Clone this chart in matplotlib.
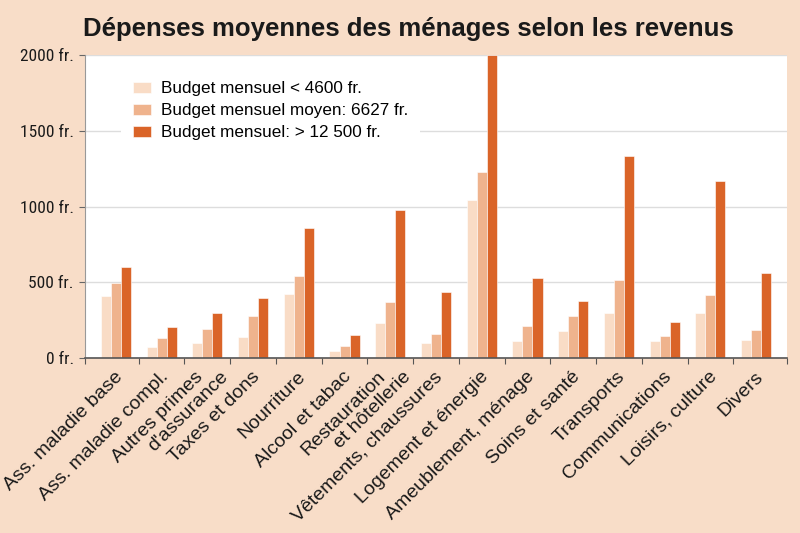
import numpy as np
import matplotlib.pyplot as plt
from matplotlib import font_manager

categories = ["Ass. maladie base", "Ass. maladie compl.", "Autres primes\nd'assurance",
              "Taxes et dons", "Nourriture", "Alcool et tabac", "Restauration\net hôtellerie",
              "Vêtements, chaussures", "Logement et énergie", "Ameublement, ménage",
              "Soins et santé", "Transports", "Communications", "Loisirs, culture", "Divers"]
low = [411, 75, 101, 140, 424, 48, 229, 101, 1045, 114, 180, 301, 114, 301, 121]
mid = [497, 132, 193, 279, 543, 81, 372, 158, 1228, 213, 279, 517, 147, 418, 183]
high = [600, 205, 297, 400, 856, 154, 977, 436, 2000, 532, 376, 1333, 240, 1170, 561]
series_labels = ["Budget mensuel < 4600 fr.", "Budget mensuel moyen: 6627 fr.",
                 "Budget mensuel: > 12 500 fr."]
yticks = [0, 500, 1000, 1500, 2000]

bg = "#F8DDC8"
colors = ["#F9DCC6", "#EFB38D", "#DA6428"]

# condensed font for the y axis if one is there
fonts = font_manager.fontManager.ttflist
narrow = None
for name in ["Liberation Sans Narrow", "Roboto Condensed", "Open Sans Condensed"]:
    if any(f.name == name for f in fonts):
        narrow = dict(family=[name, "DejaVu Sans"])
        break
if narrow is None and any(f.name == "DejaVu Sans" and f.stretch == "condensed" for f in fonts):
    narrow = dict(family=["DejaVu Sans"], stretch="condensed")
if narrow is None:
    narrow = dict(family=["Liberation Sans", "DejaVu Sans"])
sans = ["Liberation Sans", "DejaVu Sans"]

fig = plt.figure(figsize=(8, 5.33), dpi=100, facecolor=bg)
ax = fig.add_axes([0.106, 0.328, 0.878, 0.569])
ax.set_facecolor("white")

x = np.arange(len(categories))
w = 0.22
for i, (vals, c, lab) in enumerate(zip([low, mid, high], colors, series_labels)):
    ax.bar(x + (i - 1) * w, vals, w, color=c, edgecolor="white", linewidth=0.4, label=lab, zorder=3)

x0, x1 = -0.68, len(categories) - 0.32
ax.set_xlim(x0, x1)
ax.set_ylim(0, 2000)
ax.set_yticks(yticks)
ax.set_yticklabels([f"{v} fr." for v in yticks], fontsize=12.5, color="#1a1a1a", **narrow)
ax.yaxis.grid(True, color="#DDDDDD", linewidth=1, zorder=0)
ax.tick_params(axis="y", length=4, color="#666666", pad=4)

# tick marks between the groups (and at both ends), labels drawn by hand
ax.set_xticks([x0] + list(x[:-1] + 0.5) + [x1])
ax.set_xticklabels([])
ax.tick_params(axis="x", which="major", length=4, color="#555555", direction="out")

px = 72 / 100  # pixels -> points
trans = ax.get_xaxis_transform()
for xi, cat in zip(x, categories):
    lines = cat.split("\n")
    if len(lines) == 1:
        offs = [(-2, -10)]
    else:
        offs = [(-13, -10), (12, -10)]
    for line, (dx, dy) in zip(lines, offs):
        ax.annotate(line, (xi, 0), xycoords=trans, xytext=(dx * px, dy * px),
                    textcoords="offset points", rotation=45, ha="right", va="top",
                    rotation_mode="anchor", family=sans, fontsize=14, color="#1a1a1a",
                    annotation_clip=False)

for s in ["top", "right"]:
    ax.spines[s].set_visible(False)
ax.spines["left"].set_color("#999999")
ax.spines["bottom"].set_color("#555555")
ax.spines["bottom"].set_linewidth(1.2)
for s in ax.spines.values():
    s.set_zorder(4)

leg = ax.legend(loc="upper left", bbox_to_anchor=(0.051, 0.953), frameon=True, facecolor="white",
                edgecolor="none", framealpha=1, fancybox=False, handlelength=1.1, handleheight=0.6,
                handletextpad=0.58, labelspacing=0.42, borderpad=0.7,
                prop={"family": sans, "size": 12.3}, borderaxespad=0)
leg.set_zorder(5)

fig.text(0.51, 0.946, "Dépenses moyennes des ménages selon les revenus", ha="center", va="center",
         fontsize=18.5, fontweight="bold", family=sans, color="#1a1a1a")

fig.savefig("out.png", dpi=100, facecolor=bg)
